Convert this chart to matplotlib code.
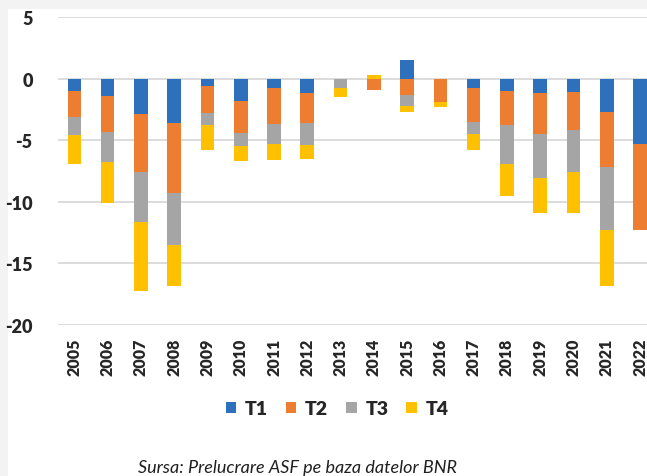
import numpy as np
import matplotlib
matplotlib.use("Agg")
import matplotlib.pyplot as plt
from matplotlib.patches import Rectangle

# ─────────────────────────────────────────────────────────────
# Data
# ─────────────────────────────────────────────────────────────
years = [str(y) for y in range(2005, 2023)]
series_names = ["T1", "T2", "T3", "T4"]
t1 = [-1.0, -1.4, -2.9, -3.6, -0.6, -1.8, -0.8, -1.2, 0.0, 0.0, 1.5, 0.0, -0.8, -1.0, -1.2, -1.1, -2.75, -5.3]
t2 = [-2.1, -2.9, -4.7, -5.7, -2.2, -2.65, -2.9, -2.4, 0.0, -0.9, -1.35, -1.9, -2.7, -2.8, -3.3, -3.1, -4.4, -7.0]
t3 = [-1.5, -2.5, -4.0, -4.2, -1.0, -1.05, -1.6, -1.8, -0.8, 0.0, -0.9, 0.0, -1.0, -3.1, -3.6, -3.4, -5.15, 0.0]
t4 = [-2.3, -3.3, -5.6, -3.3, -2.0, -1.2, -1.3, -1.1, -0.7, 0.3, -0.5, -0.4, -1.3, -2.6, -2.8, -3.3, -4.5, 0.0]
yticks = [5, 0, -5, -10, -15, -20]
source = "Sursa: Prelucrare ASF pe baza datelor BNR"

colors = ["#2E70BC", "#ED7D31", "#A5A5A5", "#FFC000"]
FONT = ["Lato", "DejaVu Sans"]
TXT = "#262626"

# ─────────────────────────────────────────────────────────────
# Figure
# ─────────────────────────────────────────────────────────────
fig = plt.figure(figsize=(6.47, 4.77), dpi=100, facecolor="#f3f3f3")
bg = Rectangle((8 / 647, 0), 1, 1 - 10 / 477, transform=fig.transFigure,
               facecolor="white", edgecolor="none", zorder=-10)
fig.add_artist(bg)

ax = fig.add_axes([57.7 / 647, 1 - 326 / 477, 599 / 647, 308 / 477])
ax.set_facecolor("none")
ax.set_zorder(1)

x = np.arange(len(years))
pos_base = np.zeros(len(years))
neg_base = np.zeros(len(years))
for name, vals, c in zip(series_names, [t1, t2, t3, t4], colors):
    v = np.array(vals)
    bottom = np.where(v >= 0, pos_base, neg_base)
    ax.bar(x, v, width=0.41, bottom=bottom, color=c, label=name, zorder=3)
    pos_base += np.where(v > 0, v, 0)
    neg_base += np.where(v < 0, v, 0)

ax.set_xlim(-0.5, len(years) - 0.5)
ax.set_ylim(-20, 5)
ax.set_yticks(yticks)
ax.set_yticklabels([str(t) for t in yticks], family=FONT, fontsize=13, fontweight="heavy", color=TXT)
ax.set_xticks(x)
ax.set_xticklabels(years, rotation=90, family=FONT, fontsize=11.5, fontweight="heavy", color=TXT)
ax.tick_params(axis="x", length=0, pad=9)
ax.tick_params(axis="y", length=0, pad=18)
ax.grid(axis="y", color="#d9d9d9", linewidth=1.3, zorder=0)
for s in ax.spines.values():
    s.set_visible(False)

leg = fig.legend(loc="center", bbox_to_anchor=(337 / 647, 1 - 410 / 477), ncol=4, frameon=False,
                 prop={"family": FONT, "size": 14, "weight": "heavy"},
                 handlelength=0.55, handleheight=0.55, handletextpad=0.45, columnspacing=0.9)
for t in leg.get_texts():
    t.set_color(TXT)

fig.text(297 / 647, 1 - 468 / 477, source, ha="center", va="center", family=FONT,
         fontsize=13, style="italic", color="#202020")

plt.savefig("out.png", dpi=100, facecolor=fig.get_facecolor())
